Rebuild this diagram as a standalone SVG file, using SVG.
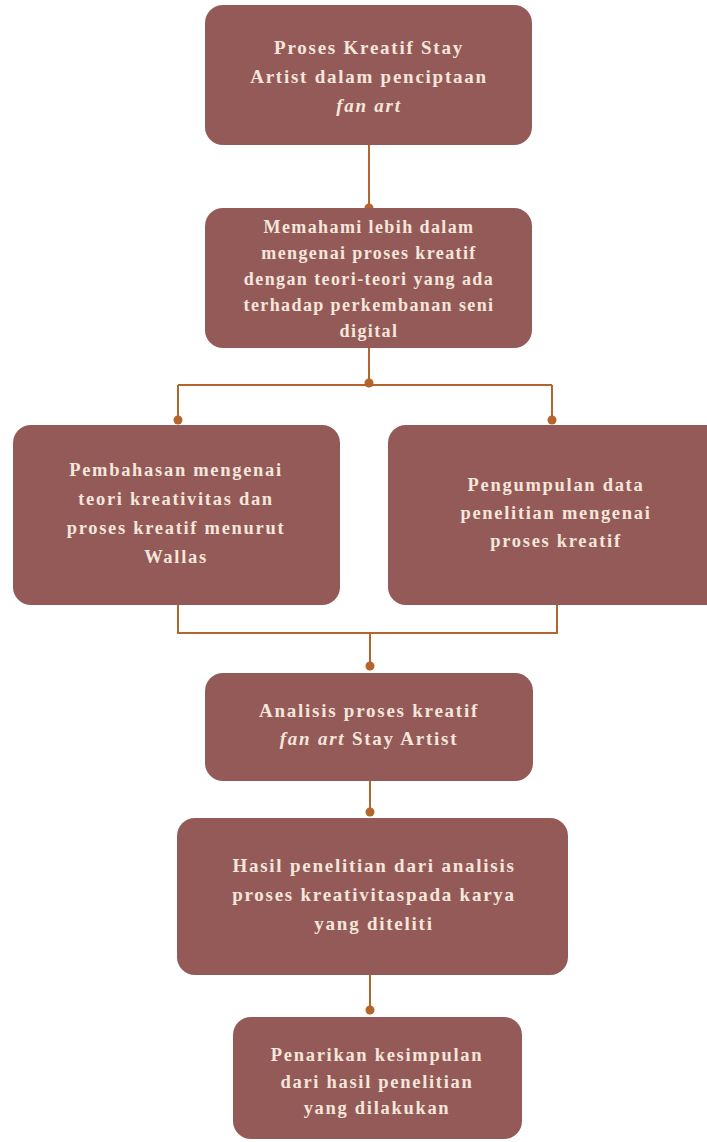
<svg xmlns="http://www.w3.org/2000/svg" width="707" height="1142" viewBox="0 0 707 1142">
<style>
.box{fill:#935a58;}
.t{font-family:"Liberation Serif","Times New Roman",serif;font-weight:bold;font-size:18.5px;letter-spacing:1.7px;fill:#f5e6dc;text-anchor:middle;}
.l{font-size:19px;letter-spacing:1.75px;}
.s{font-size:18px;letter-spacing:1.4px;}
.i{font-style:italic;}
.c{stroke:#b4652c;stroke-width:2;fill:none;}
.d{fill:#b4652c;}
</style>
<rect width="707" height="1142" fill="#ffffff"/>
<g id="connectors">
<path class="c" d="M369 145 V208"/>
<path class="c" d="M369 348 V385 M178 385 H552 M178 385 V421 M552 385 V421"/>
<path class="c" d="M178 605 V633 H557 V583 M370 633 V666"/>
<path class="c" d="M370 781 V812"/>
<path class="c" d="M370 975 V1010"/>
<circle class="d" cx="369" cy="208" r="4.5"/>
<circle class="d" cx="369" cy="383" r="4.5"/>
<circle class="d" cx="178" cy="420" r="4.5"/>
<circle class="d" cx="552" cy="420" r="4.5"/>
<circle class="d" cx="557" cy="583" r="4.5"/>
<circle class="d" cx="370" cy="666" r="4.5"/>
<circle class="d" cx="370" cy="812" r="4.5"/>
<circle class="d" cx="370" cy="1010" r="4.5"/>
</g>
<g id="n1">
<rect class="box" x="205" y="5" width="327" height="140" rx="18"/>
<text class="t l" x="369" y="54">Proses Kreatif Stay</text>
<text class="t l" x="369" y="83">Artist dalam penciptaan</text>
<text class="t l i" x="369" y="112">fan art</text>
</g>
<g id="n2">
<rect class="box" x="205" y="208" width="327" height="140" rx="18"/>
<text class="t s" x="369" y="233">Memahami lebih dalam</text>
<text class="t s" x="369" y="259">mengenai proses kreatif</text>
<text class="t s" x="369" y="285">dengan teori-teori yang ada</text>
<text class="t s" x="369" y="311">terhadap perkembanan seni</text>
<text class="t s" x="369" y="337">digital</text>
</g>
<g id="n3">
<rect class="box" x="13" y="425" width="327" height="180" rx="18"/>
<text class="t" x="176" y="476">Pembahasan mengenai</text>
<text class="t" x="176" y="505">teori kreativitas dan</text>
<text class="t" x="176" y="534">proses kreatif menurut</text>
<text class="t" x="176" y="563">Wallas</text>
</g>
<g id="n4">
<rect class="box" x="388" y="425" width="340" height="180" rx="18"/>
<text class="t" x="556" y="491">Pengumpulan data</text>
<text class="t" x="556" y="519">penelitian mengenai</text>
<text class="t" x="556" y="547">proses kreatif</text>
</g>
<g id="n5">
<rect class="box" x="205" y="673" width="328" height="108" rx="18"/>
<text class="t l" x="369" y="717">Analisis proses kreatif</text>
<text class="t l" x="369" y="745"><tspan class="i">fan art</tspan> Stay Artist</text>
</g>
<g id="n6">
<rect class="box" x="177" y="818" width="391" height="157" rx="18"/>
<text class="t l" x="374" y="872">Hasil penelitian dari analisis</text>
<text class="t l" x="374" y="901">proses kreativitaspada karya</text>
<text class="t l" x="374" y="930">yang diteliti</text>
</g>
<g id="n7">
<rect class="box" x="233" y="1017" width="289" height="122" rx="18"/>
<text class="t" x="377" y="1061">Penarikan kesimpulan</text>
<text class="t" x="377" y="1088">dari hasil penelitian</text>
<text class="t" x="377" y="1114">yang dilakukan</text>
</g>
</svg>
